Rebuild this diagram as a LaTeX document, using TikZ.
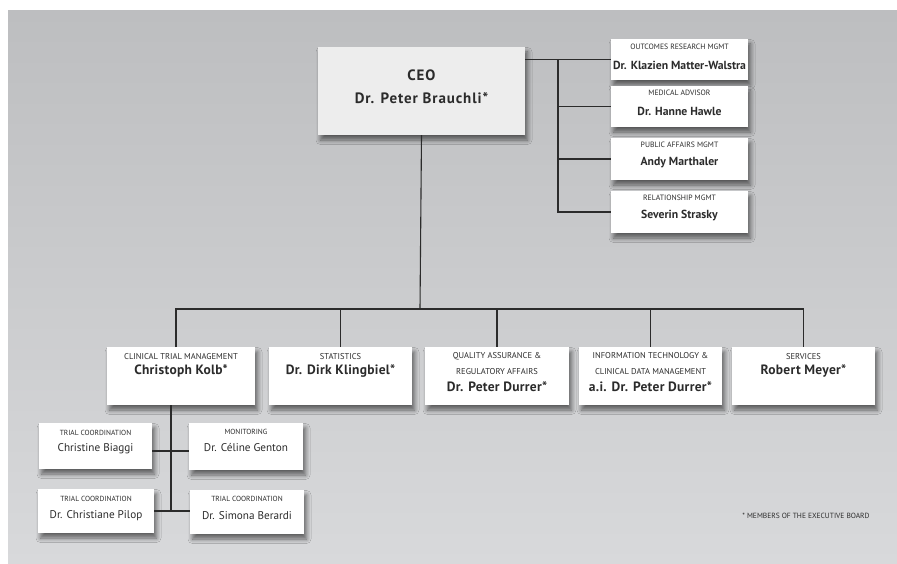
\documentclass[tikz,border=0pt]{standalone}
\usepackage{fontspec}
\setmainfont{PT Sans}
\usetikzlibrary{shadows.blur}
\definecolor{bgtop}{HTML}{BDBEC0}
\definecolor{bgbot}{HTML}{D8D9DB}
\definecolor{ink}{HTML}{2B2B2B}
\definecolor{ceofill}{HTML}{EDEDED}
\tikzset{
  box/.style={fill=white, inner sep=0pt,
    blur shadow={shadow xshift=2.5pt, shadow yshift=-5pt, shadow blur steps=8, shadow blur radius=4.5pt, shadow opacity=55}},
  lab/.style={text=ink, inner sep=0pt, align=center, font=\fontsize{7.7}{16}\selectfont},
  labtwo/.style={lab, font=\fontsize{8.5}{16}\selectfont},
  labthree/.style={lab, font=\fontsize{7.4}{16}\selectfont},
  nm/.style={text=ink, inner sep=0pt, font=\fontsize{11.7}{14}\selectfont\bfseries},
  nmtwo/.style={nm, font=\fontsize{13.5}{16}\selectfont\bfseries\addfontfeatures{LetterSpace=2}},
  nmthree/.style={nm, font=\fontsize{11.2}{14}\selectfont},
  nmceo/.style={nm, font=\fontsize{15}{18}\selectfont\bfseries\addfontfeatures{LetterSpace=6}},
  conn/.style={draw=ink, line width=1.1pt},
}
\begin{document}
\begin{tikzpicture}[x=1pt,y=-1pt]
\useasboundingbox (0,0) rectangle (897,564);
\shade[top color=bgtop, bottom color=bgbot] (8,11) rectangle (897,564);

% CEO
\node[box, fill=ceofill, minimum width=207pt, minimum height=88pt] (ceo) at (421.5,91) {};
\node[nmceo] (ceoL) at (421.5,75) {CEO};
\node[nmceo] (ceoN) at (421.5,98) {Dr. Peter Brauchli*};

% staff boxes
\node[box, minimum width=137pt, minimum height=41pt] (r1) at (679.5,59.5) {};
\node[box, minimum width=137pt, minimum height=41pt] (r2) at (679.5,106.5) {};
\node[box, minimum width=137pt, minimum height=42pt] (r3) at (679.5,159) {};
\node[box, minimum width=137pt, minimum height=42pt] (r4) at (679.5,212) {};
\node[lab] (r1L) at (679.5,47) {OUTCOMES RESEARCH MGMT};
\node[nm] (r1N) at (679.5,65) {Dr. Klazien Matter-Walstra};
\node[lab] (r2L) at (679.5,93) {MEDICAL ADVISOR};
\node[nm] (r2N) at (679.5,111) {Dr. Hanne Hawle};
\node[lab] (r3L) at (679.5,145) {PUBLIC AFFAIRS MGMT};
\node[nm] (r3N) at (679.5,163) {Andy Marthaler};
\node[lab] (r4L) at (679.5,198) {RELATIONSHIP MGMT};
\node[nm] (r4N) at (679.5,216) {Severin Strasky};

\coordinate (sv) at (558,59.5);
\draw[conn] (ceo.east |- r1.west) -- (r1.west);
\draw[conn] (sv) -- (sv |- r4.west) -- (r4.west);
\draw[conn] (sv |- r2.west) -- (r2.west);
\draw[conn] (sv |- r3.west) -- (r3.west);

% level 2
\node[box, minimum width=148pt, minimum height=58pt] (l1) at (181,376) {};
\node[box, minimum width=143pt, minimum height=58pt] (l2) at (340.5,376) {};
\node[box, minimum width=144pt, minimum height=58pt] (l3) at (497,376) {};
\node[box, minimum width=143pt, minimum height=58pt] (l4) at (650.5,376) {};
\node[box, minimum width=143pt, minimum height=58pt] (l5) at (803.5,376) {};

\node[labtwo] (l1L) at (181,357) {CLINICAL TRIAL MANAGEMENT};
\node[nmtwo] (l1N) at (181,371) {Christoph Kolb*};
\node[labtwo] (l2L) at (340.5,357) {STATISTICS};
\node[nmtwo] (l2N) at (340.5,371) {Dr. Dirk Klingbiel*};
\node[labtwo, anchor=north] (l3L) at (497,352.5) {QUALITY ASSURANCE \&\\REGULATORY AFFAIRS};
\node[nmtwo] (l3N) at (497,387) {Dr. Peter Durrer*};
\node[labtwo, anchor=north] (l4L) at (650.5,352.5) {INFORMATION TECHNOLOGY \&\\CLINICAL DATA MANAGEMENT};
\node[nmtwo] (l4N) at (650.5,387) {a.i. Dr. Peter Durrer*};
\node[labtwo] (l5L) at (803.5,357) {SERVICES};
\node[nmtwo] (l5N) at (803.5,371) {Robert Meyer*};

\coordinate (bus) at (420,309);
\coordinate (d1) at (176,347);
\draw[conn] (ceo.south) -- (bus);
\draw[conn] (d1) -- (d1 |- bus) -- (l5.north |- bus) -- (l5.north);
\draw[conn] (l2.north) -- (l2.north |- bus);
\draw[conn] (l3.north) -- (l3.north |- bus);
\draw[conn] (l4.north) -- (l4.north |- bus);

% level 3
\node[box, minimum width=113pt, minimum height=46pt] (a) at (95.5,446) {};
\node[box, minimum width=116pt, minimum height=44pt] (b) at (96,511) {};
\node[box, minimum width=114pt, minimum height=47pt] (c) at (246,446.5) {};
\node[box, minimum width=114pt, minimum height=44pt] (d) at (247,512) {};
\node[labthree] (aL) at (95.5,433) {TRIAL COORDINATION};
\node[nmthree] (aN) at (95.5,449) {Christine Biaggi};
\node[labthree] (bL) at (96,499) {TRIAL COORDINATION};
\node[nmthree] (bN) at (96,516) {Dr. Christiane Pilop};
\node[labthree] (cL) at (246,432) {MONITORING};
\node[nmthree] (cN) at (246,448) {Dr. Céline Genton};
\node[labthree] (dL) at (247,499) {TRIAL COORDINATION};
\node[nmthree] (dN) at (247,516) {Dr. Simona Berardi};

\coordinate (v3) at (171,405);
\coordinate (h1) at (171,451);
\coordinate (h2) at (171,511);
\draw[conn] (v3) -- (h2);
\draw[conn] (a.east |- h1) -- (c.west |- h1);
\draw[conn] (b.east |- h2) -- (d.west |- h2);

% footnote
\node[lab, font=\fontsize{7.5}{9}\selectfont] (fn) at (806,516) {* MEMBERS OF THE EXECUTIVE BOARD};
\end{tikzpicture}
\end{document}
